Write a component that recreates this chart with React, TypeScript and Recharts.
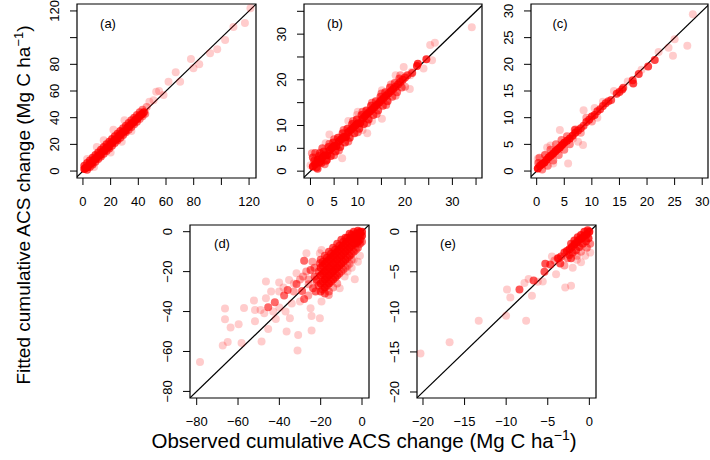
import React from "react"
import { ScatterChart, Scatter, XAxis, YAxis, ReferenceArea } from "recharts"

// [observed, fitted, how many observations overlap at that spot]
type Pt = [number, number, number]

const FONT = "'Liberation Sans', Arial, Helvetica, sans-serif"

// ---- panel (a)
const aTicks = [0, 20, 40, 60, 80, 100, 120]
const aLabels = [0, 20, 40, 60, 80, 120]
const aCore: Pt[] = [
  [1, 1.5, 12], [2, 2.5, 12], [3.5, 3, 12], [5, 5.5, 12], [6.5, 6, 12], [8, 8.5, 12], [9.5, 9.5, 12],
  [11, 11.5, 12], [12.5, 12, 12], [14, 14.5, 12], [15.5, 15.5, 12], [17, 17.5, 12], [18.5, 18, 12],
  [20, 20.5, 12], [21.5, 21.5, 12], [23, 23.5, 12], [24.5, 24, 12], [26, 26.5, 12], [27.5, 27.5, 12],
  [29, 29.5, 12], [30.5, 30, 12], [32, 32.5, 12], [33.5, 33.5, 12], [35, 35.5, 12], [36.5, 36.5, 12],
  [38, 38.5, 12], [39.5, 39.5, 12], [41, 41.5, 12], [42.5, 42.5, 12], [44, 44, 10],
  [1, 4, 6], [3, 6, 6], [5, 8, 6], [7, 10, 6], [9, 12, 6], [11, 14, 6], [13, 16, 6], [15, 18, 6],
  [17, 20, 6], [19, 22, 6], [21, 24, 6], [23, 26, 6], [25, 28, 6], [27, 30, 6], [29, 32, 5], [31, 34, 5],
  [33, 36, 5], [35, 38, 5], [37, 40, 5], [39, 42, 4], [41, 44, 4], [43, 46, 3],
  [3, 1, 5], [5, 3, 5], [7, 5, 5], [9, 7, 5], [11, 9, 5], [13, 11, 5], [15, 13, 5], [17, 15, 5],
  [19, 17, 5], [21, 19, 5], [23, 21, 5], [25, 23, 5], [27, 25, 5], [29, 27, 5], [31, 29, 4], [33, 31, 4],
  [35, 33, 4], [37, 35, 4], [39, 37, 4], [41, 39, 3], [43, 41, 3], [45, 43, 3],
]
const aSpread: Pt[] = [
  [3, 9, 1], [10, 18, 1], [15, 23, 1], [22, 31, 1], [30, 38, 1], [8, 3, 1], [20, 14, 1], [28, 22, 1],
  [35, 30, 1], [46, 48, 2], [48, 52, 1], [51, 53, 1], [52.9, 59.5, 1], [55, 60, 1], [58.2, 57, 1],
  [61.8, 67, 1], [67, 74, 1], [70.2, 67, 1], [78, 84, 1], [79.8, 77, 1], [84, 80, 1], [91.8, 88.3, 1],
  [97, 91.3, 1], [102.7, 98.3, 1], [108.7, 108, 1], [117, 111, 1], [121, 122, 1],
]

// ---- panel (b)
const bTicks = [0, 5, 10, 15, 20, 25, 30, 35]
const bLabels = [0, 5, 10, 20, 30]
const bCore: Pt[] = [
  [0.5, 1, 12], [1, 1.5, 12], [1.5, 2.5, 12], [2, 2, 12], [2.5, 3, 12], [3, 3.5, 12], [3.5, 3.5, 12],
  [4, 4.5, 12], [4.5, 5, 12], [5, 5.5, 12], [5.5, 5.5, 12], [6, 6.5, 12], [6.5, 7, 12], [7, 7.5, 12],
  [7.5, 7.5, 12], [8, 8.5, 12], [8.5, 9, 12], [9, 9.5, 12], [9.5, 10, 12], [10, 10.5, 12], [10.5, 10.5, 12],
  [11, 11.5, 12], [11.5, 12, 12], [12, 12.5, 12], [12.5, 13, 12], [13, 13.5, 12], [13.5, 14, 12],
  [14, 14.5, 10], [14.5, 15, 10], [15, 15.5, 10], [15.5, 16, 10], [16, 16.5, 9], [16.5, 17, 9], [17, 17.5, 9],
  [17.5, 18, 9], [18, 18.5, 8], [18.5, 19, 8], [19, 19.5, 7], [19.5, 20, 7], [20, 20.5, 6], [20.5, 21, 5],
  [21.5, 21.5, 5], [22.5, 23, 7], [22.7, 23.5, 7], [24.5, 24.5, 7],
  [0.8, 2.3, 6], [1.8, 3.3, 6], [2.8, 4.3, 6], [3.8, 5.3, 6], [4.8, 6.3, 6], [5.8, 7.3, 6], [6.8, 8.3, 6],
  [7.8, 9.3, 6], [8.8, 10.3, 6], [9.8, 11.3, 6], [10.8, 12.3, 6], [11.8, 13.3, 6], [12.8, 14.3, 6],
  [13.8, 15.3, 5], [14.8, 16.3, 5], [15.8, 17.3, 5], [16.8, 18.3, 5], [17.8, 19.3, 4], [18.8, 20.3, 4],
  [1.3, 0.8, 6], [2.3, 1.8, 6], [3.3, 2.3, 6], [4.3, 3.3, 6], [5.3, 4.3, 6], [6.3, 5.3, 6], [7.3, 6.3, 6],
  [8.3, 7.3, 6], [9.3, 8.3, 6], [10.3, 9.3, 6], [11.3, 10.3, 6], [12.3, 11.3, 6], [13.3, 12.3, 5],
  [14.3, 13.3, 5], [15.3, 14.3, 5], [16.3, 15.3, 5], [17.3, 16.3, 4], [18.3, 17.3, 4], [19.3, 18.3, 4],
  [0.5, 3, 5], [1, 4, 4], [0.3, 3.9, 2], [2, 4, 5], [1.5, 0.5, 5], [3, 1.5, 3], [2.5, 5, 4], [3.5, 2.5, 4],
  [4, 6, 3], [5, 3.5, 3], [5, 7, 3], [6, 4.5, 3], [7, 9, 3], [8, 6.5, 3], [9, 11, 3], [10, 8.5, 3],
  [11, 13, 3], [12, 10.5, 3], [13, 15, 3], [14, 12.5, 3], [15, 17, 3], [16, 14.5, 3], [17, 19, 2],
  [18, 16.5, 2], [19, 21, 2], [20, 18.5, 2],
]
const bSpread: Pt[] = [
  [0, 1.3, 1], [3.2, 6.1, 1], [5.6, 6.8, 1], [6.7, 2.8, 1], [7.4, 7.5, 1], [9.8, 12.3, 1], [12, 8.3, 1],
  [15.1, 11.5, 1], [15.1, 17.7, 1], [16.2, 15.5, 1], [19.7, 22.8, 1], [21.4, 21.7, 1], [21.1, 21, 1],
  [23.9, 22.5, 1], [25.7, 24.3, 1], [25.3, 27.6, 1], [26.3, 28.1, 1], [34.1, 31.5, 1], [18, 21, 1],
  [21, 18, 1], [13, 11, 1], [4, 8, 1], [8, 11, 1], [10, 13, 1], [11, 9, 1],
]

// ---- panel (c)
const cTicks = [0, 5, 10, 15, 20, 25, 30]
const cCore: Pt[] = [
  [0.2, 0.5, 12], [0.6, 1, 12], [1, 1.3, 12], [1.4, 1.6, 12], [1.8, 2.1, 12], [2.2, 2.6, 12], [2.6, 2.9, 12],
  [3, 3.3, 12], [3.4, 3.7, 12], [3.8, 4.1, 12], [4.2, 4.4, 12], [4.6, 4.9, 12], [5, 5.3, 11], [5.5, 5.7, 10],
  [6, 6.1, 10], [6.5, 6.6, 9], [7, 7.2, 8], [7.5, 7.6, 7], [8, 8, 6], [8.5, 8.5, 5], [9, 9.2, 6],
  [9.5, 9.6, 7], [10, 10.2, 7], [10.5, 10.5, 7], [11, 11.2, 6], [11.5, 11.6, 6], [12, 12.2, 6],
  [12.5, 12.7, 6], [13, 13.1, 5], [13.5, 13.3, 5], [14.5, 14.5, 6], [15, 14.8, 6], [15.5, 15.3, 6],
  [15.7, 15.6, 5], [17.4, 17, 6], [17.5, 16.4, 6], [18.5, 18.2, 6], [20.2, 19.6, 6], [21.4, 20.8, 6],
  [0.3, 1.5, 4], [0.5, 2.5, 3], [1, 0.3, 3], [1.5, 3, 4], [2, 1, 3], [2.5, 4, 3], [3, 2, 3], [3.5, 5, 3],
  [4, 3, 3], [4.5, 5.8, 3], [5, 4, 3], [5.5, 6.5, 3], [6, 5, 3], [7, 7.8, 3], [6.9, 7.7, 3], [8, 7.2, 2],
  [9, 10, 2], [10, 9.3, 2],
]
const cSpread: Pt[] = [
  [28.3, 29.4, 1], [25, 24.7, 1], [23.9, 23.1, 1], [24.7, 21.6, 1], [27.3, 23.5, 1], [22.1, 22.3, 1],
  [19, 19, 1], [16.5, 16.8, 1], [14, 15, 1], [12, 13, 1], [8.5, 11.4, 1], [8.4, 4.9, 1], [5.7, 1.4, 1],
  [4.2, 7.7, 1], [6.6, 6.1, 1], [3, 1.4, 1], [1.9, 4.4, 1], [10.5, 11.8, 1], [11, 10, 1], [7.5, 5.5, 1],
  [2.5, 4.8, 1], [0.2, 2.3, 1],
]

// ---- panel (d)
const dTicks = [-80, -60, -40, -20, 0]
const dCore: Pt[] = [
  [-20, -14, 4], [-20, -18, 7], [-20, -22, 8], [-20, -26, 7], [-20, -30, 5],
  [-18, -12, 4], [-18, -16, 8], [-18, -20, 10], [-18, -24, 10], [-18, -28, 8], [-18, -31, 4],
  [-16, -10, 5], [-16, -14, 9], [-16, -18, 10], [-16, -22, 10], [-16, -26, 8], [-16, -30, 3],
  [-14, -8, 5], [-14, -12, 10], [-14, -16, 10], [-14, -20, 10], [-14, -24, 6], [-14, -28, 2],
  [-12, -6, 5], [-12, -10, 10], [-12, -14, 10], [-12, -18, 10], [-12, -22, 5], [-12, -26, 2],
  [-10, -4, 5], [-10, -8, 10], [-10, -12, 10], [-10, -16, 8], [-10, -20, 3],
  [-8, -3, 6], [-8, -6, 10], [-8, -10, 10], [-8, -14, 7], [-8, -18, 2],
  [-6, -1, 6], [-6, -4, 10], [-6, -8, 10], [-6, -12, 6], [-6, -16, 2],
  [-4, 0, 6], [-4, -3, 10], [-4, -6, 10], [-4, -10, 5], [-4, -14, 1],
  [-2, 0.5, 6], [-2, -2, 10], [-2, -5, 8], [-2, -8, 4],
  [0, 0, 8], [0, -2, 8], [0, -5, 4],
  [-19, -15, 5], [-17, -13, 6], [-15, -11, 6], [-13, -9, 6], [-11, -7, 6], [-9, -5, 6], [-7, -3, 6],
  [-5, -1.5, 6], [-3, -1, 6], [-1, -0.5, 6], [-19, -25, 6], [-17, -23, 7], [-15, -21, 7], [-13, -19, 7],
  [-11, -17, 7], [-9, -15, 6], [-7, -13, 5], [-5, -11, 4], [-3, -9, 3], [-1, -6, 4], [-19, -21, 7],
  [-17, -19, 7], [-15, -17, 7], [-13, -15, 7], [-11, -13, 7], [-9, -11, 7], [-7, -9, 7], [-5, -7, 7],
  [-3, -4, 7], [-1, -2, 7],
  [-19, -17, 6], [-19, -29, 4], [-17, -15, 7], [-17, -27, 5], [-15, -13, 7], [-15, -25, 5], [-13, -11, 7],
  [-13, -23, 5], [-11, -9, 7], [-11, -21, 4], [-9, -7, 7], [-9, -19, 3], [-7, -5, 7], [-7, -17, 2],
  [-5, -3, 7], [-5, -14, 2], [-3, -2, 7], [-3, -6, 6], [-1, 0, 6], [-1, -4, 6], [-21, -27, 4],
  [-21, -20, 4], [-22, -24, 4], [-23, -18, 3],
]
const dSpread: Pt[] = [
  [-78.4, -65.3, 1], [-67.4, -57, 1], [-65, -55.3, 1], [-66.3, -43.8, 1], [-66.3, -38.5, 1],
  [-63.6, -48, 1], [-59.7, -46.3, 1], [-58.3, -55.8, 1], [-57.1, -38.2, 1], [-52.3, -34.5, 1],
  [-51.8, -39.2, 1], [-51.8, -44.8, 1], [-49.1, -39.2, 1], [-48.6, -55, 1], [-46.5, -25, 1],
  [-46.5, -33.3, 1], [-47.3, -40.8, 1], [-45.4, -37.8, 4], [-45.4, -48.8, 1], [-42.2, -35.3, 4],
  [-41.7, -43.7, 1], [-40.1, -30, 1], [-40.1, -25.5, 1], [-37.7, -32, 4], [-37, -40, 1], [-36.5, -50, 1],
  [-36, -29.2, 4], [-35.3, -24.2, 1], [-34.9, -43.3, 1], [-31.7, -26.2, 4], [-31.7, -20.8, 1],
  [-30.9, -51.8, 1], [-31.2, -59.5, 1], [-29, -29.7, 4], [-28.5, -22.5, 2], [-28, -14.5, 4],
  [-28, -33.7, 4], [-26.9, -10.8, 1], [-25.8, -26.3, 2], [-24.9, -19.2, 4], [-24.9, -38.3, 1],
  [-24.4, -42.2, 1], [-24.4, -49.5, 1], [-23.7, -28.3, 4], [-22.9, -22.5, 4], [-22.5, -30, 4],
  [-20.4, -10.8, 1], [-20.4, -43.3, 1], [-20.4, -15.8, 4], [-19.6, -35, 1], [-19.6, -9.2, 1],
  [-16.1, -31.7, 2], [-12.4, -22.5, 1], [-10.8, -28.3, 1], [-8.4, -22.5, 1], [-3.5, -23.8, 1],
  [-44, -30, 1], [-40, -38, 1], [-38, -28, 1], [-33, -30, 2], [-30, -24, 2], [-27, -20, 2], [-26, -32, 2],
  [-34, -36, 1], [-43, -40, 1], [-33, -26, 1], [-30, -35, 1], [-22, -25, 3], [-24, -15, 2], [-26, -24, 2],
  [-1, -12, 1], [-2, -15, 1], [-5, -18, 1], [-7, -20, 1],
]

// ---- panel (e)
const eTicks = [-20, -15, -10, -5, 0]
const eCore: Pt[] = [
  [0, 0, 10], [-0.3, -0.3, 10], [-0.6, -0.5, 10], [-0.9, -0.8, 10], [-1.2, -1, 10], [-1.5, -1.3, 10],
  [-1.8, -1.6, 10], [-2.1, -1.9, 9], [-2.4, -2.2, 8], [-2.7, -2.4, 7], [-3, -2.6, 6], [-0.2, 0.2, 7],
  [-0.6, 0, 7], [-1, -0.4, 7], [-1.4, -0.7, 6], [-1.8, -1.1, 6], [-2.2, -1.5, 5], [-0.1, -0.8, 7],
  [-0.4, -1.2, 6], [-0.8, -1.5, 6], [-1.2, -1.9, 6], [-1.6, -2.3, 5], [-2, -2.6, 5], [-2.4, -2.9, 5],
  [0.1, -1.5, 3], [-0.3, -2, 3], [-1, -2.5, 2], [-3.4, -3.1, 5], [-3.7, -3.3, 4], [-2.6, -3.3, 3],
  [-1.5, -3, 2],
]
const eSpread: Pt[] = [
  [-20.3, -15.2, 1], [-16.8, -13.8, 1], [-13.3, -11.1, 1], [-10, -10.5, 1], [-7.6, -11.1, 1],
  [-9.9, -7.2, 1], [-9.5, -8.2, 1], [-8.4, -7.2, 5], [-7.8, -6.4, 1], [-7.3, -5.9, 1], [-6.9, -8, 1],
  [-6.7, -6.1, 5], [-6.2, -6.25, 1], [-5.6, -6.2, 1], [-5.4, -5, 5], [-5.3, -4, 5], [-4.7, -4.1, 5],
  [-4.5, -3.1, 1], [-4, -5.3, 1], [-3.8, -3.3, 5], [-3.5, -3.95, 5], [-2.9, -6.95, 1], [-2.2, -6.75, 1],
  [-2.2, -3.3, 5], [-1.5, -3.5, 1], [0.1, -2.6, 1], [-4.2, -3.6, 2], [-3, -4.2, 2], [-1, -3.8, 1],
  [-0.5, -3, 1], [-2, -4.5, 1],
]

const toRows = (pts: Pt[]) => pts.map(([x, y, n]) => ({ x, y, n }))

const dot = (p: any) => {
  const n = p.payload?.n ?? p.n ?? 1
  return <circle cx={p.cx} cy={p.cy} r={4} fill="#ff0000" fillOpacity={1 - Math.pow(0.8, n)} />
}
const noDot = () => <g />

const ML = 42, MT = 6, MR = 4, MB = 34

function Panel({ box, xDomain, yDomain, xTicks, yTicks, xLabels, yLabels, points }: any) {
  const [L, T, R, B] = box
  const lo = Math.max(xDomain[0], yDomain[0])
  const hi = Math.min(xDomain[1], yDomain[1])
  const xTick = (p: any) =>
    xLabels.includes(p.payload.value) ? (
      <text x={p.x} y={p.y + 20.5} textAnchor="middle" fontSize={13} fontFamily={FONT} fill="#000">
        {String(p.payload.value).replace("-", "\u2212")}
      </text>
    ) : <g />
  const yTick = (p: any) =>
    yLabels.includes(p.payload.value) ? (
      <text transform={`translate(${p.x - 11.3},${p.y}) rotate(-90)`} textAnchor="middle" fontSize={13} fontFamily={FONT} fill="#000">
        {String(p.payload.value).replace("-", "\u2212")}
      </text>
    ) : <g />
  return (
    <div style={{ position: "absolute", left: L - ML, top: T - MT }}>
      <ScatterChart width={R - L + ML + MR} height={B - T + MT + MB} margin={{ top: MT, right: MR, bottom: 0, left: 0 }}>
        <XAxis type="number" dataKey="x" domain={xDomain} ticks={xTicks} interval={0} allowDataOverflow
          axisLine={false} tickLine={{ stroke: "#000" }} tickSize={7} tickMargin={0} height={MB} tick={xTick} />
        <YAxis type="number" dataKey="y" domain={yDomain} ticks={yTicks} interval={0} allowDataOverflow
          axisLine={false} tickLine={{ stroke: "#000" }} tickSize={7} tickMargin={0} width={ML} tick={yTick} />
        {/* 1:1 line, drawn under the points */}
        <Scatter data={[{ x: lo, y: lo }, { x: hi, y: hi }]} line={{ stroke: "#000", strokeWidth: 1.2 }}
          shape={noDot} isAnimationActive={false} />
        <Scatter data={toRows(points)} shape={dot} isAnimationActive={false} />
        <ReferenceArea x1={xDomain[0]} x2={xDomain[1]} y1={yDomain[0]} y2={yDomain[1]}
          fill="none" fillOpacity={0} stroke="#000" strokeWidth={1.2} ifOverflow="visible" />
      </ScatterChart>
    </div>
  )
}

export default function App() {
  return (
    <div style={{ position: "absolute", left: 0, top: 0, width: 710, height: 460, overflow: "hidden", background: "#fff" }}>
      <Panel box={[77, 4, 256, 178]} xDomain={[-4.3, 125]} yDomain={[-5.2, 125.2]}
        xTicks={aTicks} yTicks={aTicks} xLabels={aLabels} yLabels={aLabels} points={[...aCore, ...aSpread]} />
      <Panel box={[304, 4, 482, 178]} xDomain={[-1.37, 36.26]} yDomain={[-1.5, 36.6]}
        xTicks={bTicks} yTicks={bTicks} xLabels={bLabels} yLabels={bLabels} points={[...bCore, ...bSpread]} />
      <Panel box={[531, 4, 708, 178]} xDomain={[-1.03, 31.05]} yDomain={[-1.3, 31.3]}
        xTicks={cTicks} yTicks={cTicks} xLabels={cTicks} yLabels={cTicks} points={[...cCore, ...cSpread]} />
      <Panel box={[190, 225, 369, 398]} xDomain={[-83.24, 3.38]} yDomain={[-83.3, 3.35]}
        xTicks={dTicks} yTicks={dTicks} xLabels={dTicks} yLabels={dTicks} points={[...dCore, ...dSpread]} />
      <Panel box={[417, 225, 596, 398]} xDomain={[-20.72, 0.8]} yDomain={[-20.75, 0.84]}
        xTicks={eTicks} yTicks={eTicks} xLabels={eTicks} yLabels={eTicks} points={[...eCore, ...eSpread]} />
      <svg width={710} height={460} style={{ position: "absolute", left: 0, top: 0, pointerEvents: "none" }}>
        <g fontFamily={FONT} fill="#000">
          <text x={108} y={27.5} fontSize={13} textAnchor="middle">(a)</text>
          <text x={335} y={27.5} fontSize={13} textAnchor="middle">(b)</text>
          <text x={560} y={27.5} fontSize={13} textAnchor="middle">(c)</text>
          <text x={222} y={248} fontSize={13} textAnchor="middle">(d)</text>
          <text x={448} y={248} fontSize={13} textAnchor="middle">(e)</text>
          <text x={364} y={448} fontSize={20.5} textAnchor="middle">
            Observed cumulative ACS change (Mg C ha<tspan fontSize={14} dy={-8}>{"\u22121"}</tspan><tspan dy={8}>)</tspan>
          </text>
          <text transform="translate(30,205) rotate(-90)" fontSize={19} textAnchor="middle">
            Fitted cumulative ACS change (Mg C ha<tspan fontSize={13} dy={-7.5}>{"\u22121"}</tspan><tspan dy={7.5}>)</tspan>
          </text>
        </g>
      </svg>
    </div>
  )
}
